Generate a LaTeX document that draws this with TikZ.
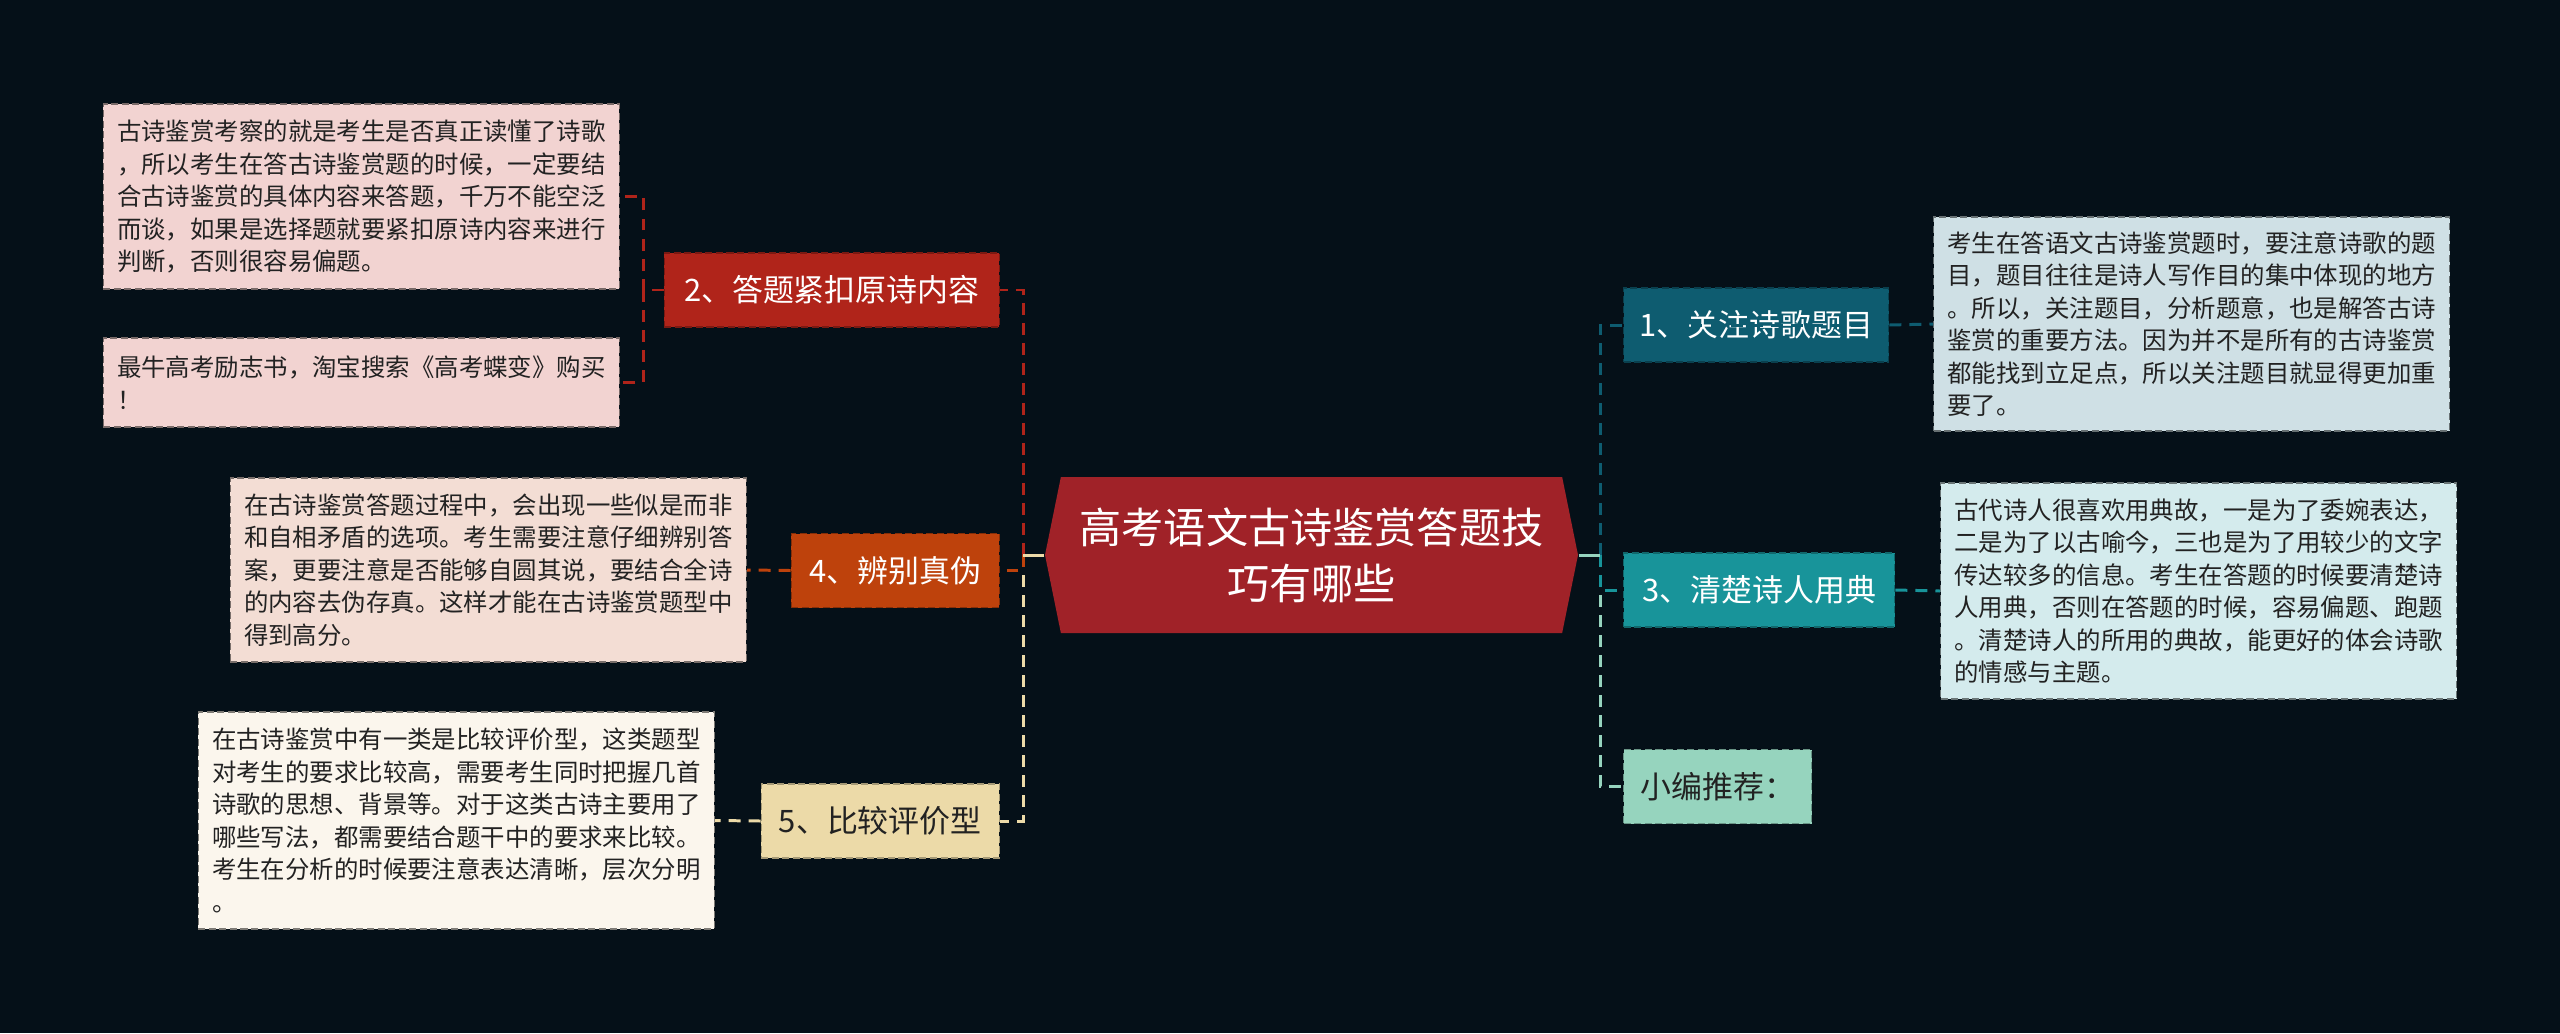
\documentclass[tikz,border=0pt]{standalone}
\usepackage{fontspec}
\setmainfont{Noto Sans CJK SC}
\usepackage{tikz}
\usetikzlibrary{shapes.symbols,calc}
\definecolor{BgNavy}{RGB}{5,16,24}
\definecolor{TopicRed}{RGB}{160,34,40}
\definecolor{BrRed}{RGB}{176,36,26}
\definecolor{BrOrange}{RGB}{190,66,12}
\definecolor{BrSand}{RGB}{236,218,168}
\definecolor{BrPetrol}{RGB}{14,92,112}
\definecolor{BrTeal}{RGB}{24,148,154}
\definecolor{BrMint}{RGB}{150,212,190}
\definecolor{LfPink}{RGB}{242,211,209}
\definecolor{LfRose}{RGB}{243,221,212}
\definecolor{LfCream}{RGB}{251,246,237}
\definecolor{LfIce}{RGB}{207,224,229}
\definecolor{LfAqua}{RGB}{212,235,237}
\definecolor{InkDark}{RGB}{34,34,34}

\begin{document}
\begin{tikzpicture}[y=-1cm,
  topic/.style={signal,signal to=east and west,signal pointer angle=157,fill=TopicRed,
    minimum width=5.33cm,minimum height=1.56cm,inner sep=0pt,align=center,text=white,
    font=\fontsize{12pt}{15.9pt}\selectfont},
  branch/.style={draw=#1!70!black,dash pattern=on 2pt off 1pt,line width=0.4pt,fill=#1,
    minimum height=0.74cm,inner sep=0pt,font=\fontsize{8.8pt}{10pt}\selectfont},
  leaf/.style={draw=#1!50!black,dash pattern=on 2pt off 1pt,line width=0.4pt,fill=#1,
    minimum width=5.16cm,inner sep=0pt,align=left,text=InkDark,
    font=\fontsize{6.95pt}{9.25pt}\selectfont},
  link/.style={draw=#1,line width=0.85pt,dash pattern=on 3.4pt off 2.3pt}
]
\fill[BgNavy] (0,0) rectangle (25.6,10.33);
\useasboundingbox (0,0) rectangle (25.6,10.33);

\node[topic] (hub) at (13.115,5.55) {高考语文古诗鉴赏答题技\\巧有哪些};

\node[branch=BrRed,text=white,anchor=east,minimum width=3.35cm] (qa) at (10.0,2.90) {2、答题紧扣原诗内容};
\node[branch=BrOrange,text=white,anchor=east,minimum width=2.08cm] (fake) at (10.0,5.705) {4、辨别真伪};
\node[branch=BrSand,text=InkDark,anchor=east,minimum width=2.38cm] (cmp) at (10.0,8.21) {5、比较评价型};
\node[branch=BrPetrol,text=white,anchor=west,minimum width=2.65cm] (title) at (16.23,3.25) {1、关注诗歌题目};
\node[branch=BrTeal,text=white,anchor=west,minimum width=2.71cm] (allus) at (16.23,5.90) {3、清楚诗人用典};
\node[branch=BrMint,text=InkDark,anchor=west,minimum width=1.88cm] (edit) at (16.23,7.865) {小编推荐：};

\node[leaf=LfPink,anchor=east,minimum height=1.85cm] (lf1) at (6.20,1.965) {古诗鉴赏考察的就是考生是否真正读懂了诗歌\\，所以考生在答古诗鉴赏题的时候，一定要结\\合古诗鉴赏的具体内容来答题，千万不能空泛\\而谈，如果是选择题就要紧扣原诗内容来进行\\判断，否则很容易偏题。};
\node[leaf=LfPink,anchor=east,minimum height=0.89cm] (lf2) at (6.20,3.825) {最牛高考励志书，淘宝搜索《高考蝶变》购买\\！};
\node[leaf=LfRose,anchor=east,minimum height=1.84cm] (lf4) at (7.47,5.70) {在古诗鉴赏答题过程中，会出现一些似是而非\\和自相矛盾的选项。考生需要注意仔细辨别答\\案，更要注意是否能够自圆其说，要结合全诗\\的内容去伪存真。这样才能在古诗鉴赏题型中\\得到高分。};
\node[leaf=LfCream,anchor=east,minimum height=2.17cm] (lf5) at (7.15,8.205) {在古诗鉴赏中有一类是比较评价型，这类题型\\对考生的要求比较高，需要考生同时把握几首\\诗歌的思想、背景等。对于这类古诗主要用了\\哪些写法，都需要结合题干中的要求来比较。\\考生在分析的时候要注意表达清晰，层次分明\\。};
\node[leaf=LfIce,anchor=west,minimum height=2.14cm] (lr1) at (19.33,3.24) {考生在答语文古诗鉴赏题时，要注意诗歌的题\\目，题目往往是诗人写作目的集中体现的地方\\。所以，关注题目，分析题意，也是解答古诗\\鉴赏的重要方法。因为并不是所有的古诗鉴赏\\都能找到立足点，所以关注题目就显得更加重\\要了。};
\node[leaf=LfAqua,anchor=west,minimum height=2.16cm] (lr3) at (19.40,5.91) {古代诗人很喜欢用典故，一是为了委婉表达，\\二是为了以古喻今，三也是为了用较少的文字\\传达较多的信息。考生在答题的时候要清楚诗\\人用典，否则在答题的时候，容易偏题、跑题\\。清楚诗人的所用的典故，能更好的体会诗歌\\的情感与主题。};

\coordinate (tl) at (10.23,5.55);
\coordinate (tr) at (16.00,5.55);
\coordinate (s2) at (6.43,2.90);

\draw[link=BrRed] (tl) |- (qa.east);
\draw[link=BrSand] (tl) |- (cmp.east);
\draw[link=BrOrange] (tl) |- (fake.east);
\draw[line width=0.85pt,BrSand] (hub.west) -- (tl);
\draw[link=BrPetrol] (tr) |- (title.east);
\draw[link=BrMint] (tr) |- (edit.west);
\draw[link=BrTeal] (tr) |- (allus.west);
\draw[line width=0.85pt,BrMint] (hub.east) -- (tr);

\draw[link=BrRed] (qa.west) -- (s2) |- (lf1.east);
\draw[link=BrRed] (s2) |- (lf2.east);
\draw[link=BrOrange] (fake.west) -- (lf4.east);
\draw[link=BrSand] (cmp.west) -- (lf5.east);
\draw[link=BrPetrol] (title.east) -- (lr1.west);
\draw[link=BrTeal] (allus.east) -- (lr3.west);
\end{tikzpicture}
\end{document}
